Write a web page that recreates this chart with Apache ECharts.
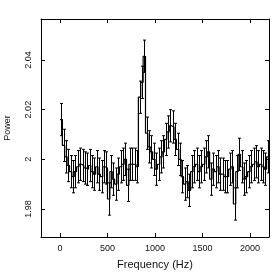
<!DOCTYPE html>
<html><head><meta charset="utf-8">
<script src="https://cdn.jsdelivr.net/npm/echarts@6/dist/echarts.min.js"></script>
<style>html,body{margin:0;padding:0;background:#fff}#c{width:273px;height:273px}</style>
</head><body><div id="c"></div>
<script>
// Frequency bins (Hz)
const binStart = 0;
const binWidth = 25;
// Power per bin
const power = [
  2.016, 2.0056, 2.001, 1.9975, 1.995, 1.993, 1.995, 1.997, 1.998, 1.9975,
  1.9965, 1.996, 1.9975, 1.995, 1.994, 1.997, 1.994, 1.993, 1.997, 1.9965,
  1.984, 1.995, 1.992, 1.990, 1.994, 1.997, 1.998, 2.000, 1.9895, 1.998,
  1.998, 1.998, 1.997, 2.025, 2.031, 2.0415, 2.0105, 2.005, 2.003, 2.000,
  1.996, 1.998, 2.001, 2.003, 2.008, 2.011, 2.0135, 2.013, 2.008, 2.004,
  2.000, 1.993, 1.990, 1.991, 1.9875, 1.995, 1.997, 1.998, 1.995, 1.997,
  1.998, 2.001, 2.003, 1.992, 1.996, 1.995, 1.997, 1.994, 1.994, 1.993,
  1.993, 1.996, 1.997, 1.982, 1.995, 2.002, 1.997, 1.992, 1.993, 1.995,
  1.997, 1.998, 1.999, 1.997, 1.998, 1.997, 1.996, 2.001
];
const powerErr = 0.0065;
const xTicks = [0, 500, 1000, 1500, 2000];
const yTicks = [1.98, 2, 2.02, 2.04];
const xRange = [-200, 2200];
const yRange = [1.9687, 2.0565];

const freq = power.map((_, i) => binStart + binWidth * (i + 0.5));
const stepData = [];
power.forEach((v, i) => {
  stepData.push([binStart + binWidth * i, v]);
  stepData.push([binStart + binWidth * (i + 1), v]);
});
const errData = power.map((v, i) => [freq[i], v - powerErr, v + powerErr]);

const font = 'Liberation Sans, Arial, sans-serif';
const lineC = '#000';

function xAx(pos, labels) {
  return {
    type: 'value', min: xRange[0], max: xRange[1], position: pos,
    axisLine: { show: true, onZero: false, lineStyle: { color: lineC, width: 1 } },
    axisTick: { show: true, inside: true, length: 4, customValues: xTicks, lineStyle: { color: lineC } },
    axisLabel: labels ? { show: true, customValues: xTicks, fontSize: 9, color: '#111', fontFamily: font, margin: 7,
      formatter: v => String(Math.round(v)) } : { show: false },
    splitLine: { show: false },
    name: labels ? 'Frequency (Hz)' : '', nameLocation: 'middle', nameGap: 22,
    nameTextStyle: { fontSize: 11, color: '#111', fontFamily: font }
  };
}
function yAx(pos, labels) {
  return {
    type: 'value', min: yRange[0], max: yRange[1], position: pos,
    axisLine: { show: true, onZero: false, lineStyle: { color: lineC, width: 1 } },
    axisTick: { show: true, inside: true, length: 4, customValues: yTicks, lineStyle: { color: lineC } },
    axisLabel: labels ? { show: true, customValues: yTicks, rotate: 90, fontSize: 9, color: '#111', fontFamily: font, margin: 8,
      formatter: v => String(+v.toFixed(2)) } : { show: false },
    splitLine: { show: false },
    name: labels ? 'Power' : '', nameLocation: 'middle', nameGap: 29, nameRotate: 90,
    nameTextStyle: { fontSize: 9, color: '#111', fontFamily: font }
  };
}

const chart = echarts.init(document.getElementById('c'), null, { renderer: 'canvas' });
chart.setOption({
  animation: false,
  backgroundColor: '#fff',
  grid: { left: 41, right: 4, top: 19, bottom: 36, containLabel: false, outerBoundsMode: 'none' },
  xAxis: [xAx('bottom', true), xAx('top', false)],
  yAxis: [yAx('left', true), yAx('right', false)],
  series: [
    {
      type: 'line', data: stepData, xAxisIndex: 0, yAxisIndex: 0,
      symbol: 'none', lineStyle: { color: '#000', width: 1.2 }, clip: true, silent: true
    },
    {
      type: 'custom', data: errData, xAxisIndex: 0, yAxisIndex: 0, clip: true, silent: true,
      encode: { x: 0, y: [1, 2] },
      renderItem: function (params, api) {
        const x = api.value(0);
        const pLo = api.coord([x, api.value(1)]);
        const pHi = api.coord([x, api.value(2)]);
        const cx = Math.round(pLo[0]) + 0.5;
        const cap = 1.5;
        const st = { stroke: '#000', lineWidth: 1 };
        return {
          type: 'group', children: [
            { type: 'line', shape: { x1: cx, y1: pLo[1], x2: cx, y2: pHi[1] }, style: st },
            { type: 'line', shape: { x1: cx - cap, y1: pHi[1], x2: cx + cap, y2: pHi[1] }, style: st },
            { type: 'line', shape: { x1: cx - cap, y1: pLo[1], x2: cx + cap, y2: pLo[1] }, style: st }
          ]
        };
      }
    }
  ]
});
</script>
</body></html>
